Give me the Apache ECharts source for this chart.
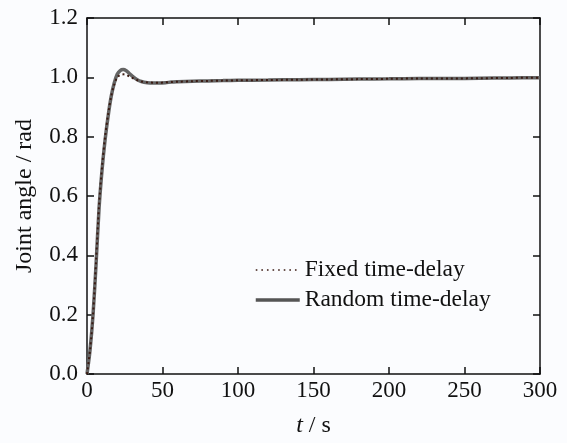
<!DOCTYPE html>
<html><head><meta charset="utf-8">
<script src="https://cdn.jsdelivr.net/npm/echarts@6/dist/echarts.min.js"></script>
<style>html,body{margin:0;padding:0;background:#fbfcfe;}#c{width:567px;height:443px;}</style>
</head><body><div id="c"></div>
<script>
const times = [0,2,4,6,8,10,12,14,16,18,20,22,24,26,28,30,33,36,40,44,48,52,56,60,70,80,90,100,120,140,160,180,200,220,240,260,280,300];
const randomDelay = [0,0.08,0.2,0.37,0.56,0.69,0.79,0.87,0.935,0.98,1.01,1.023,1.026,1.022,1.013,1.004,0.993,0.986,0.982,0.981,0.981,0.982,0.984,0.985,0.987,0.988,0.989,0.990,0.991,0.992,0.993,0.994,0.995,0.996,0.996,0.997,0.998,0.999];
const fixedDelay = [0,0.08,0.2,0.38,0.57,0.70,0.80,0.875,0.935,0.975,1.0,1.008,1.01,1.008,1.003,0.998,0.991,0.986,0.983,0.982,0.982,0.983,0.984,0.985,0.987,0.988,0.989,0.990,0.991,0.992,0.993,0.994,0.995,0.996,0.996,0.997,0.998,0.999];
const seriesNames = ['Fixed time-delay','Random time-delay'];
const xTicks = [0,50,100,150,200,250,300];
const yTicks = [0,0.2,0.4,0.6,0.8,1.0,1.2];

const font = '"Liberation Serif", serif';
const ink = '#111111';
const fs = 23;
function pairs(v){ return times.map((t,i)=>[t,v[i]]); }
function axLine(){ return {show:true,onZero:false,lineStyle:{color:ink,width:1.5}}; }
function axTick(){ return {show:true,inside:true,length:7,lineStyle:{color:ink,width:1.5}}; }
const chart = echarts.init(document.getElementById('c'));
chart.setOption({
  backgroundColor:'#fbfcfe',
  animation:false,
  grid:{left:87,right:27,top:18,bottom:67},
  legend:{
    show:true,
    data:[
      {name:seriesNames[0],lineStyle:{color:'#3a1a12',width:1.6,type:[1.6,4]}},
      {name:seriesNames[1],lineStyle:{color:'#555555',width:3.5}}
    ],
    orient:'vertical', left:249, top:253, itemWidth:44, itemHeight:14, itemGap:6,
    itemStyle:{opacity:0},
    textStyle:{fontFamily:font,fontSize:23.5,color:ink}
  },
  xAxis:[
    {type:'value',min:0,max:300,interval:50,position:'bottom',gridIndex:0,
      name:'{i|t} / s', nameLocation:'middle', nameGap:40,
      nameTextStyle:{fontFamily:font,fontSize:24,color:ink,rich:{i:{fontFamily:font,fontSize:24,fontStyle:'italic',color:ink}}},
      axisLine:axLine(),axisTick:axTick(),splitLine:{show:false},
      axisLabel:{fontFamily:font,fontSize:fs,color:ink,margin:5}},
    {type:'value',min:0,max:300,interval:50,position:'top',gridIndex:0,
      axisLine:axLine(),axisTick:axTick(),splitLine:{show:false},axisLabel:{show:false}}
  ],
  yAxis:[
    {type:'value',min:0,max:1.2,interval:0.2,position:'left',gridIndex:0,
      name:'Joint angle / rad', nameLocation:'middle', nameGap:50,
      nameTextStyle:{fontFamily:font,fontSize:24,color:ink},
      axisLine:axLine(),axisTick:axTick(),splitLine:{show:false},
      axisLabel:{fontFamily:font,fontSize:fs,color:ink,margin:9,formatter:v=>v.toFixed(1)}},
    {type:'value',min:0,max:1.2,interval:0.2,position:'right',gridIndex:0,
      axisLine:axLine(),axisTick:axTick(),splitLine:{show:false},axisLabel:{show:false}}
  ],
  series:[
    {name:seriesNames[0],type:'line',xAxisIndex:0,yAxisIndex:0,data:pairs(fixedDelay),symbol:'none',smooth:0.3,z:3,
      lineStyle:{color:'#3a1a12',width:2,type:[2,3]},itemStyle:{color:'#3a1a12'}},
    {name:seriesNames[1],type:'line',xAxisIndex:0,yAxisIndex:0,data:pairs(randomDelay),symbol:'none',smooth:0.3,z:2,
      lineStyle:{color:'#646464',width:3.5},itemStyle:{color:'#646464'}}
  ]
});
</script></body></html>
